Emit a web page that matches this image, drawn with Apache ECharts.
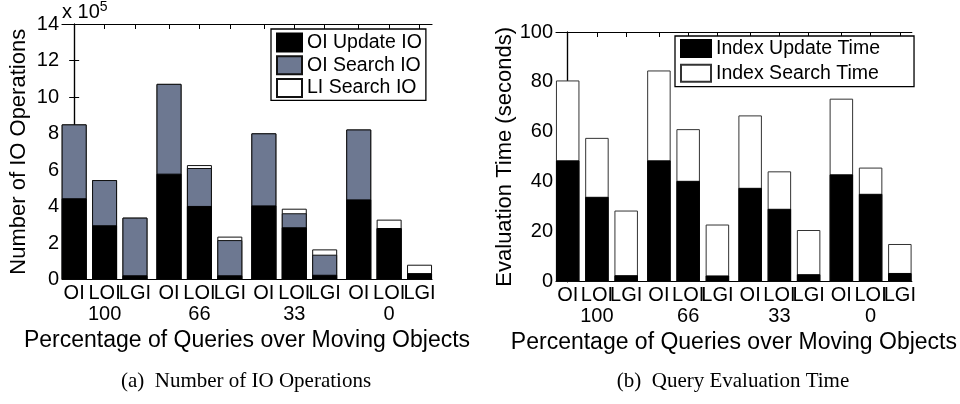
<!DOCTYPE html>
<html>
<head>
<meta charset="utf-8">
<script src="https://cdn.jsdelivr.net/npm/echarts@6/dist/echarts.min.js"></script>
<style>
  html, body { margin: 0; padding: 0; background: #fff; }
  #chart { width: 960px; height: 404px; }
</style>
</head>
<body>
<div id="chart"></div>
<script>
// Bars per query mix: OI, LOI, LGI
const barLabels = ['OI', 'LOI', 'LGI'];
// Percentage of queries over moving objects, one group each
const groupLabels = ['100', '66', '33', '0'];

// (a) IO operations, in units of 10^5
const oiUpdateIO = [4.45, 2.97, 0.23, 5.80, 4.03, 0.23, 4.06, 2.86, 0.26, 4.39, 2.82, 0.34];
const oiSearchIO = [4.05, 2.48, 3.16, 4.92, 2.08, 1.93, 3.95, 0.77, 1.10, 3.83, 0.00, 0.00];
const liSearchIO = [0.00, 0.00, 0.00, 0.00, 0.16, 0.19, 0.00, 0.25, 0.29, 0.00, 0.46, 0.47];

// (b) query evaluation time, seconds
const indexUpdateTime = [48.6, 34.0, 2.6, 48.6, 40.4, 2.5, 37.6, 29.2, 3.0, 43.0, 35.2, 3.5];
const indexSearchTime = [32.0, 23.6, 25.9, 36.0, 20.7, 20.4, 29.0, 15.0, 17.7, 30.3, 10.5, 11.6];

// y-axis tick labels
const ioTicks = [0, 2, 4, 6, 8, 10, 12, 14];
const timeTicks = [0, 20, 40, 60, 80, 100];

// bar positions along x: bars one unit apart, groups a little further apart
const groupStep = 3.12;
const X_MIN = -0.4;
const X_MAX = 11.77;
const positions = [];
const tickText = [];
groupLabels.forEach((g, gi) => {
  barLabels.forEach((b, bi) => {
    positions.push(gi * groupStep + bi);
    tickText.push(bi === 1 ? b + '\n' + g : b);
  });
});
// label slots: the bar centres plus blank ones at both ends of the axis
const labelSlots = [X_MIN].concat(positions, [X_MAX]);

const FONT = 'Liberation Sans, Arial, sans-serif';
const GRAY = '#6d7891';

function labelFor(v) {
  const i = positions.findIndex(p => Math.abs(p - v) < 1e-6);
  return i < 0 ? '' : tickText[i];
}

function xAxes(gridIndex, name) {
  const base = {
    type: 'value', gridIndex: gridIndex, min: X_MIN, max: X_MAX,
    axisLine: { show: true, onZero: false, lineStyle: { color: '#000', width: 1.2 } },
    axisTick: { show: true, inside: true, length: 5, customValues: positions, lineStyle: { color: '#000' } },
    splitLine: { show: false }
  };
  return [
    Object.assign({}, base, {
      position: 'bottom',
      name: name, nameLocation: 'middle', nameGap: 47,
      nameTextStyle: { fontFamily: FONT, fontSize: 23, color: '#000' },
      axisLabel: {
        show: true, customValues: labelSlots, formatter: labelFor, margin: 3,
        hideOverlap: false,
        fontFamily: FONT, fontSize: 20, lineHeight: 21, color: '#000', align: 'center'
      }
    }),
    Object.assign({}, base, { position: 'top', axisLabel: { show: false } })
  ];
}

function yAxes(gridIndex, ticks, name, nameGap) {
  const base = {
    type: 'value', gridIndex: gridIndex,
    min: ticks[0], max: ticks[ticks.length - 1], interval: ticks[1] - ticks[0],
    axisLine: { show: true, lineStyle: { color: '#000', width: 1.2 } },
    axisTick: { show: true, inside: true, length: 5, lineStyle: { color: '#000' } },
    splitLine: { show: false }
  };
  return [
    Object.assign({}, base, {
      position: 'left',
      name: name, nameLocation: 'middle', nameGap: nameGap, nameRotate: 90,
      nameTextStyle: { fontFamily: FONT, fontSize: 22, color: '#000' },
      axisLabel: { show: true, margin: 3, fontFamily: FONT, fontSize: 20, color: '#000' }
    }),
    Object.assign({}, base, { position: 'right', axisLabel: { show: false } })
  ];
}

// Segments are drawn as overlapping bars from the baseline: each series reaches
// the running total of its own segment and those beneath it, and the lower
// segments are painted over it.
function cumulative(layers) {
  return layers[0].map((_, i) => layers.reduce((s, arr) => s + arr[i], 0));
}

function barSeries(name, tops, color, xi, yi, width, border, z) {
  return {
    name: name, type: 'bar',
    xAxisIndex: xi, yAxisIndex: yi,
    barWidth: width, barGap: '-100%',
    z: z,
    data: positions.map((p, i) => [p, tops[i]]),
    itemStyle: { color: color, borderColor: border, borderWidth: 1 },
    emphasis: { disabled: true },
    animation: false
  };
}

const chart = echarts.init(document.getElementById('chart'), null, { renderer: 'canvas' });

const legendBase = {
  orient: 'vertical', icon: 'rect', itemGap: 0, itemTextGap: 3,
  backgroundColor: '#fff', borderColor: '#000', borderWidth: 1.3, borderRadius: 0,
  selectedMode: false, z: 10
};

const ioTop1 = cumulative([oiUpdateIO]);
const ioTop2 = cumulative([oiUpdateIO, oiSearchIO]);
const ioTop3 = cumulative([oiUpdateIO, oiSearchIO, liSearchIO]);
const timeTop1 = cumulative([indexUpdateTime]);
const timeTop2 = cumulative([indexUpdateTime, indexSearchTime]);

chart.setOption({
  animation: false,
  textStyle: { fontFamily: FONT },
  grid: [
    { left: 62, top: 24, width: 370, height: 255.5 },
    { left: 556, top: 32, width: 359, height: 249.7 }
  ],
  xAxis: [].concat(
    xAxes(0, 'Percentage of Queries over Moving Objects'),
    xAxes(1, 'Percentage of Queries over Moving Objects')
  ),
  yAxis: [].concat(
    yAxes(0, ioTicks, 'Number of IO Operations', 32),
    yAxes(1, timeTicks, 'Evaluation Time (seconds)', 38)
  ),
  legend: [
    Object.assign({}, legendBase, {
      data: ['OI Update IO', 'OI Search IO', 'LI Search IO'],
      left: 271, top: 29, padding: [2, 4, 1, 5],
      itemWidth: 25, itemHeight: 18,
      textStyle: { fontFamily: FONT, fontSize: 19.5, lineHeight: 22.8, color: '#000' }
    }),
    Object.assign({}, legendBase, {
      data: ['Index Update Time', 'Index Search Time'],
      left: 675, top: 36, padding: [0, 34, 1, 5],
      itemWidth: 30, itemHeight: 17,
      textStyle: { fontFamily: FONT, fontSize: 19.5, lineHeight: 24.8, color: '#000' }
    })
  ],
  series: [
    barSeries('LI Search IO', ioTop3, '#fff', 0, 0, 25, '#111', 2),
    barSeries('OI Search IO', ioTop2, GRAY, 0, 0, 25, '#111', 3),
    barSeries('OI Update IO', ioTop1, '#000', 0, 0, 25, '#000', 4),
    barSeries('Index Search Time', timeTop2, '#fff', 2, 2, 23.5, '#333', 2),
    barSeries('Index Update Time', timeTop1, '#000', 2, 2, 23.5, '#000', 3)
  ],
  graphic: [
    {
      type: 'text', left: 62, top: 0,
      style: {
        text: '{a|x 10}{b|5}',
        rich: {
          a: { fontFamily: FONT, fontSize: 20, fill: '#000', verticalAlign: 'bottom', lineHeight: 22 },
          b: { fontFamily: FONT, fontSize: 14, fill: '#000', verticalAlign: 'top', lineHeight: 22 }
        }
      }
    },
    {
      type: 'text', x: 246, y: 381,
      style: {
        text: '(a)  Number of IO Operations', fontFamily: 'Liberation Serif, Times New Roman, serif',
        fontSize: 21, fill: '#000', align: 'center', verticalAlign: 'middle'
      }
    },
    {
      type: 'text', x: 733, y: 381,
      style: {
        text: '(b)  Query Evaluation Time', fontFamily: 'Liberation Serif, Times New Roman, serif',
        fontSize: 21, fill: '#000', align: 'center', verticalAlign: 'middle'
      }
    }
  ]
});
</script>
</body>
</html>
